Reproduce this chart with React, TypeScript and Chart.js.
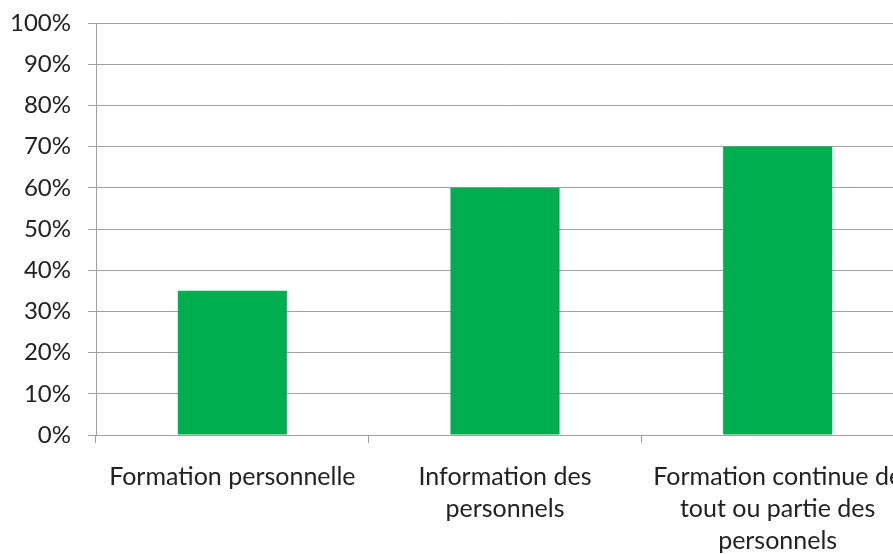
import React, { useEffect, useRef } from "react";
import { Chart, registerables } from "chart.js";

Chart.register(...registerables);

const categories: string[][] = [
  ["Formation personnelle"],
  ["Information des", "personnels"],
  ["Formation continue de", "tout ou partie des", "personnels"],
];
const values: number[] = [35, 60, 70];
const yTicks: number[] = [0, 10, 20, 30, 40, 50, 60, 70, 80, 90, 100];

const FONT = "Lato";
const GRID = "#a0a0a0";
const TEXT = "#222222";

export default function App() {
  const ref = useRef<HTMLCanvasElement | null>(null);

  useEffect(() => {
    if (!ref.current) return;
    const chart = new Chart(ref.current, {
      type: "bar",
      data: {
        labels: categories,
        datasets: [
          {
            data: values,
            backgroundColor: "#00ad4f",
            borderWidth: 0,
            barPercentage: 0.4,
            categoryPercentage: 1,
          },
        ],
      },
      options: {
        responsive: false,
        animation: false,
        devicePixelRatio: 1,
        layout: { padding: { top: 23, right: 6, left: 0, bottom: 0 } },
        plugins: { legend: { display: false }, tooltip: { enabled: false } },
        scales: {
          x: {
            offset: true,
            grid: {
              offset: true,
              drawOnChartArea: false,
              drawTicks: true,
              tickLength: 8,
              color: GRID,
            },
            border: { display: true, color: GRID, width: 1 },
            ticks: {
              maxRotation: 0,
              minRotation: 0,
              autoSkip: false,
              padding: 18,
              color: TEXT,
              font: { family: FONT, size: 25, lineHeight: 1.28 },
            },
            afterFit: (scale: any) => {
              scale.height = 119;
              scale.paddingLeft = 0;
              scale.paddingRight = 0;
            },
          },
          y: {
            min: 0,
            max: 100,
            afterBuildTicks: (scale: any) => {
              scale.ticks = yTicks.map((v) => ({ value: v }));
            },
            grid: { color: GRID, tickLength: 8 },
            border: { display: true, color: GRID, width: 1 },
            ticks: {
              padding: 17,
              color: TEXT,
              font: { family: FONT, size: 24 },
              callback: (v: any) => v + "%",
            },
            afterFit: (scale: any) => {
              scale.width = 96;
              scale.paddingTop = 0;
              scale.paddingBottom = 0;
            },
          },
        },
      },
    });
    return () => chart.destroy();
  }, []);

  return (
    <div
      style={{
        position: "fixed",
        left: 0,
        top: 0,
        width: 893,
        height: 554,
        overflow: "hidden",
        background: "#fff",
      }}
    >
      <canvas ref={ref} width={920} height={554} style={{ display: "block" }} />
    </div>
  );
}
